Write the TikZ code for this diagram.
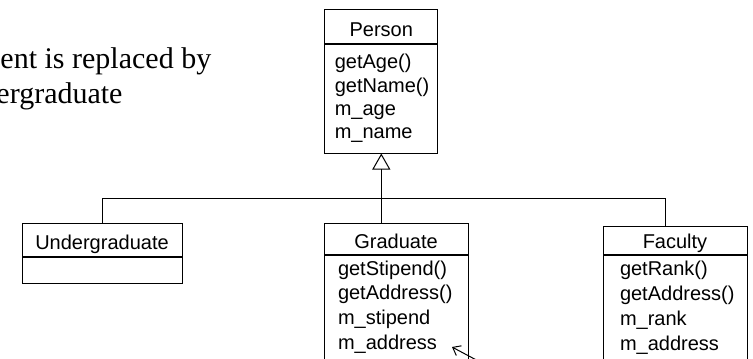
\documentclass[tikz,border=0pt]{standalone}
\usepackage{fontspec}
\setmainfont{Liberation Serif}
\setsansfont{Liberation Sans}
\usetikzlibrary{arrows.meta,calc}
\begin{document}
\begin{tikzpicture}[x=1pt,y=-1pt,line width=1pt,
  cls/.style={draw=black,inner sep=0pt,font=\sffamily\fontsize{20}{24}\selectfont},
  ctitle/.style={cls,text height=23pt,text depth=3pt},
  body/.style={cls,anchor=north,align=left},
  note/.style={anchor=base west,inner sep=0pt,font=\fontsize{30}{34}\selectfont},
  gen/.style={-{Triangle[open,length=16pt,width=18pt]}},
  conn/.style={draw=black,line width=1pt}]
\useasboundingbox (0,0) rectangle (753,359);
% left text
\node[note] (t1) at (0,68) {ent is replaced by};
\node[note] (t2) at (-4,103) {ergraduate};
% Person
\node[ctitle,minimum width=113,minimum height=34] (ptitle) at (381.3,26) {Person};
\node[body,minimum width=113,minimum height=109,text width=93,font=\sffamily\fontsize{20}{23.2}\selectfont] (pbody) at (ptitle.south) {getAge()\\getName()\\m\_age\\m\_name};
% Undergraduate
\node[ctitle,minimum width=160,minimum height=33] (utitle) at (102,239.5) {Undergraduate};
\node[body,minimum width=160,minimum height=26] (ubody) at (utitle.south) {};
% Graduate
\node[ctitle,minimum width=144,minimum height=31] (gtitle) at (396,238.5) {Graduate};
\node[body,minimum width=144,minimum height=104,text width=116,font=\sffamily\fontsize{20}{24.7}\selectfont] (gbody) at (gtitle.south) {getStipend()\\getAddress()\\m\_stipend\\m\_address};
% Faculty
\node[ctitle,text height=21pt,text depth=5pt,minimum width=144,minimum height=28] (ftitle) at (675,240) {Faculty};
\node[body,minimum width=144,minimum height=126,text width=110,font=\sffamily\fontsize{20}{25}\selectfont] (fbody) at (ftitle.south) {getRank()\\getAddress()\\m\_rank\\m\_address\\\mbox{}};
% generalization tree
\coordinate (junc) at (381.3,198);
\coordinate (uj) at (102,198);
\coordinate (fj) at (665,198);
\draw[gen] (junc) -- (pbody.south);
\draw[conn] (uj) -- (fj);
\draw[conn] (uj) -- (utitle.north);
\draw[conn] (junc) -- (junc |- gtitle.north);
\draw[conn] (fj) -- (fj |- ftitle.north);
% pointer arrow
\coordinate (arrtail) at (482,363);
\coordinate (arrtip) at (452,347);
\draw[-{Straight Barb[length=7pt,width=11pt]}] (arrtail) -- (arrtip);
\end{tikzpicture}
\end{document}
